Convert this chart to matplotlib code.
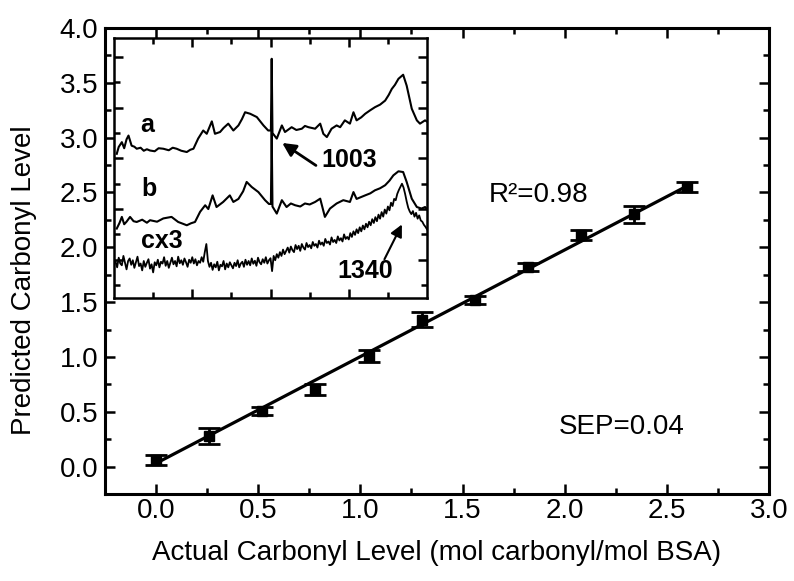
import numpy as np
import matplotlib
matplotlib.use("Agg")
import matplotlib.pyplot as plt
from matplotlib.ticker import MultipleLocator, FixedLocator

plt.rcParams['font.family'] = ['Liberation Sans', 'DejaVu Sans']

# calibration data (main plot)
actual = [0.0, 0.26, 0.52, 0.78, 1.04, 1.30, 1.56, 1.82, 2.08, 2.34, 2.60]
predicted = [0.06, 0.28, 0.51, 0.70, 1.01, 1.34, 1.52, 1.82, 2.11, 2.30, 2.55]
pred_err = [0.045, 0.073, 0.035, 0.05, 0.053, 0.068, 0.04, 0.038, 0.045, 0.08, 0.05]
fit_x = [0.0, 2.60]
fit_y = [0.03, 2.56]

# inset Raman spectra (shift in cm-1, offset intensity)
a_x = [607, 612, 620, 626, 632, 637, 645, 652, 658, 668, 676, 684, 692, 704, 714,
       726, 740, 750, 760, 772, 786, 795, 803, 815, 828, 837, 850, 858, 871, 880,
       892, 905, 918, 927, 935, 948, 965, 982, 994, 1001, 1003, 1005, 1016, 1029,
       1037, 1054, 1066, 1080, 1088, 1097, 1114, 1127, 1135, 1144, 1156, 1169,
       1178, 1190, 1203, 1212, 1220, 1232, 1242, 1255, 1267, 1280, 1293, 1302,
       1310, 1318, 1327, 1339, 1348, 1361, 1374, 1382, 1395, 1400]
a_y = [6.18, 6.45, 6.64, 6.40, 6.75, 6.90, 6.50, 6.46, 6.38, 6.42, 6.30, 6.36,
       6.31, 6.28, 6.40, 6.38, 6.32, 6.42, 6.38, 6.30, 6.25, 6.34, 6.38, 6.78,
       7.10, 6.97, 7.46, 6.97, 7.04, 7.20, 7.37, 7.10, 7.30, 7.55, 7.82, 7.76,
       7.63, 7.30, 7.10, 7.10, 9.93, 7.00, 6.78, 7.30, 7.04, 7.23, 7.12, 7.17,
       7.28, 7.23, 7.17, 7.37, 6.97, 6.84, 7.17, 7.30, 7.23, 7.50, 7.37, 7.82,
       7.50, 7.62, 7.76, 7.90, 8.02, 8.12, 8.28, 8.50, 8.74, 8.90, 9.14, 9.30,
       8.87, 7.96, 7.50, 7.37, 7.50, 7.45]

b_x = [607, 614, 620, 626, 632, 641, 650, 658, 672, 684, 692, 710, 726, 747, 764,
       776, 786, 797, 807, 820, 833, 841, 852, 862, 879, 896, 905, 918, 930, 939,
       952, 969, 986, 996, 1001, 1003, 1005, 1016, 1029, 1041, 1052, 1063, 1076,
       1088, 1100, 1114, 1127, 1139, 1152, 1169, 1186, 1203, 1212, 1220, 1242,
       1255, 1267, 1280, 1293, 1304, 1314, 1327, 1339, 1348, 1361, 1374, 1386,
       1395, 1400]
b_y = [3.23, 3.45, 3.69, 3.40, 3.50, 3.69, 3.52, 3.49, 3.58, 3.46, 3.56, 3.50,
       3.63, 3.69, 3.49, 3.42, 3.36, 3.44, 3.49, 3.89, 4.15, 4.00, 4.54, 4.08,
       4.28, 4.54, 4.28, 4.40, 4.70, 5.07, 4.87, 4.67, 4.35, 4.20, 4.20, 7.10,
       4.10, 3.82, 4.35, 4.08, 4.22, 4.15, 4.10, 4.22, 4.18, 4.28, 4.41, 3.69,
       4.02, 4.22, 4.35, 4.28, 4.67, 4.40, 4.54, 4.62, 4.74, 4.82, 4.94, 5.12,
       5.33, 5.49, 5.46, 5.07, 4.41, 4.08, 4.02, 4.08, 4.00]

c_start = 604
c_step = 4
c_y = [1.92, 1.70, 2.08, 1.85, 1.78, 2.15, 1.88, 1.62, 1.95, 2.05, 1.80, 1.98,
       1.68, 1.90, 2.12, 1.75, 1.85, 1.58, 1.95, 1.72, 1.88, 2.02, 1.65, 1.82,
       1.50, 1.90, 1.78, 2.00, 1.70, 1.92, 1.85, 2.10, 1.76, 1.95, 1.68, 1.88,
       2.08, 1.82, 1.95, 1.74, 2.12, 1.86, 1.98, 1.80, 2.05, 1.90, 1.72, 2.00,
       1.88, 2.10,
       1.85, 2.02, 1.78, 1.95, 1.88, 2.10, 1.92, 2.30, 2.62, 1.95, 1.72, 1.88,
       1.60, 1.82, 1.70, 1.92, 1.58, 1.80, 1.74, 1.95, 1.62, 1.85, 1.70, 1.90,
       1.78, 1.66, 1.88, 1.75, 1.98, 1.70, 1.85, 1.92, 1.72, 2.00, 1.80, 1.95,
       1.78, 2.05, 1.84, 1.96, 1.76, 2.08, 1.90, 1.82, 2.02, 1.88, 2.10, 1.85,
       1.98, 2.06,
       1.55, 2.15, 1.98, 2.22, 2.08, 2.30, 2.15, 2.40, 2.22, 2.35, 2.48, 2.28,
       2.52, 2.38, 2.30, 2.58, 2.42, 2.55, 2.35, 2.62, 2.48, 2.40, 2.66, 2.50,
       2.58, 2.45, 2.70, 2.55, 2.62, 2.48, 2.75, 2.60, 2.68, 2.55, 2.82, 2.66,
       2.72, 2.60, 2.88, 2.70, 2.78, 2.66, 2.92, 2.76, 2.85, 2.72, 3.00, 2.82,
       2.90, 2.80,
       3.05, 2.90, 3.12, 2.98, 3.20, 3.05, 3.28, 3.12, 3.35, 3.20, 3.42, 3.28,
       3.50, 3.36, 3.60, 3.45, 3.68, 3.52, 3.78, 3.62, 3.88, 3.70, 3.98, 3.82,
       4.10, 3.95, 4.25, 4.12, 4.40, 4.35, 4.60, 4.75, 4.88, 5.00, 4.85, 4.60,
       4.30, 4.05, 3.90, 3.80, 3.92, 3.70, 3.85, 3.62, 3.75, 3.55, 3.50, 3.38,
       3.30, 3.20]
c_x = c_start + c_step * np.arange(len(c_y))

fig = plt.figure(figsize=(7.94, 5.81), dpi=100)
ax = fig.add_axes([0.1322, 0.1497, 0.8363, 0.8021])

ax.plot(fit_x, fit_y, color='k', lw=2.3, zorder=2)
ax.errorbar(actual, predicted, yerr=pred_err, fmt='s', color='k', ms=7,
            capsize=8, capthick=2, elinewidth=2, zorder=3)

ax.set_xlim(-0.25, 3.0)
ax.set_ylim(-0.25, 4.0)
ax.xaxis.set_major_locator(MultipleLocator(0.5))
ax.xaxis.set_minor_locator(MultipleLocator(0.25))
ax.yaxis.set_major_locator(MultipleLocator(0.5))
ax.yaxis.set_minor_locator(MultipleLocator(0.25))
ax.xaxis.set_major_formatter(lambda v, p: f"{v:.1f}")
ax.yaxis.set_major_formatter(lambda v, p: f"{v:.1f}")
ax.tick_params(which='both', direction='in', top=True, right=True, labelsize=20)
ax.tick_params(which='major', length=7, width=1.8)
ax.tick_params(which='minor', length=4.5, width=1.8)
ax.tick_params(axis='x', pad=3)
ax.tick_params(axis='y', pad=5)
for s in ax.spines.values():
    s.set_linewidth(2.2)

ax.set_xlabel("Actual Carbonyl Level (mol carbonyl/mol BSA)", fontsize=20)
ax.set_ylabel("Predicted Carbonyl Level", fontsize=20)
ax.xaxis.set_label_coords(0.5, -0.127)
ax.xaxis.label.set_va('center')
ax.yaxis.set_label_coords(-0.122, 0.459)
ax.yaxis.label.set_va('center')

ax.text(1.87, 2.48, "R²=0.98", fontsize=20, ha='center', va='center')
ax.text(2.28, 0.36, "SEP=0.04", fontsize=20, ha='center', va='center')

# inset with the spectra
ins = fig.add_axes([0.1436, 0.4871, 0.3942, 0.4475])
ins.set_zorder(5)
ins.plot(a_x, a_y, color='k', lw=1.5)
ins.plot(b_x, b_y, color='k', lw=1.5)
ins.plot(c_x, c_y, color='k', lw=1.3)
ins.set_xlim(600, 1400)
ins.set_ylim(0.49, 10.75)
ins.xaxis.set_major_locator(FixedLocator([800, 1000, 1200]))
ins.xaxis.set_minor_locator(FixedLocator([700, 900, 1100, 1300]))
ins.yaxis.set_major_locator(FixedLocator([2, 4, 6, 8, 10]))
ins.yaxis.set_minor_locator(FixedLocator([1, 3, 5, 7, 9]))
ins.tick_params(which='both', direction='in', top=True, right=True,
                labelbottom=False, labelleft=False, width=1.8)
ins.tick_params(which='major', length=6.5)
ins.tick_params(which='minor', length=4.5)
for s in ins.spines.values():
    s.set_linewidth(1.8)

ins.text(684, 7.3, "a", fontsize=18, fontweight='bold', ha='center', va='center')
ins.text(690, 4.78, "b", fontsize=18, fontweight='bold', ha='center', va='center')
ins.text(722, 2.73, "cx3", fontsize=18, fontweight='bold', ha='center', va='center')
ins.annotate("", xy=(1024, 6.67), xytext=(1122, 5.66),
             arrowprops=dict(arrowstyle='-|>', color='k', lw=2, mutation_scale=20))
ins.text(1201, 5.92, "1003", fontsize=18, fontweight='bold', ha='center', va='center')
ins.annotate("", xy=(1339, 3.49), xytext=(1288, 1.92),
             arrowprops=dict(arrowstyle='-|>', color='k', lw=1.5, mutation_scale=18))
ins.text(1241, 1.55, "1340", fontsize=18, fontweight='bold', ha='center', va='center')

fig.savefig("out.png", dpi=100)
